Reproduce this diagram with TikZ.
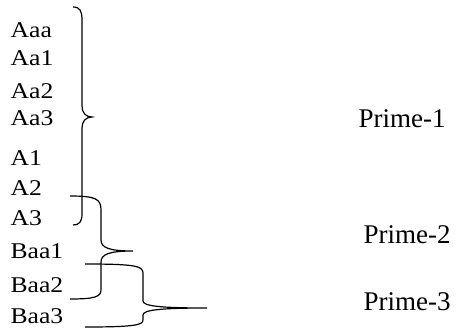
\documentclass[tikz,border=0pt]{standalone}
\usepackage{fontspec}
\setmainfont{Liberation Serif}
\newfontfamily\itemfont[FakeStretch=1.14]{Liberation Serif}
\newcommand{\itemsize}{\itemfont\fontsize{22.5}{27}\selectfont}
\newcommand{\primesize}{\fontsize{27}{32}\selectfont}

\begin{document}
\begin{tikzpicture}[x=1pt,y=-1pt,line width=1.2pt,
	item/.style={anchor=base west,inner sep=0pt,font=\itemsize},
	prime/.style={anchor=base west,inner sep=0pt,font=\primesize}]
	\useasboundingbox (0,0) rectangle (458,330);
	\node[item] (Aaa) at (10,37) {Aaa};
	\node[item] (Aa1) at (10,65) {Aa1};
	\node[item] (Aa2) at (10,98) {Aa2};
	\node[item] (Aa3) at (10,125) {Aa3};
	\node[item] (A1) at (10,165) {A1};
	\node[item] (A2) at (10,195) {A2};
	\node[item] (A3) at (10,225) {A3};
	\node[item] (Baa1) at (10,258) {Baa1};
	\node[item] (Baa2) at (10,292) {Baa2};
	\node[item] (Baa3) at (10,323) {Baa3};
	\node[prime] (P1) at (358,127) {Prime-1};
	\node[prime] (P2) at (363,243) {Prime-2};
	\node[prime] (P3) at (363,310) {Prime-3};
	% first brace
	\draw (73,7) .. controls (80,7) and (82,11) .. (82,20) -- (82,106)
		.. controls (82,113) and (86,117) .. (92,117)
		.. controls (86,117) and (82,121) .. (82,128) -- (82,214)
		.. controls (82,222) and (79,225) .. (73,225);
	% second brace
	\draw (70,196) .. controls (96,196) and (101,199) .. (101,210) -- (101,240)
		.. controls (101,248) and (110,251) .. (133,251)
		.. controls (110,251) and (101,254) .. (101,262) -- (101,290)
		.. controls (101,297) and (94,299) .. (70,299);
	% third brace
	\draw (85,264) .. controls (135,264) and (143,266) .. (143,273) -- (143,301)
		.. controls (143,306) and (160,308) .. (207,308)
		.. controls (160,308) and (143,310) .. (143,315) -- (143,320)
		.. controls (143,325) and (135,327) .. (85,327);
\end{tikzpicture}
\end{document}
